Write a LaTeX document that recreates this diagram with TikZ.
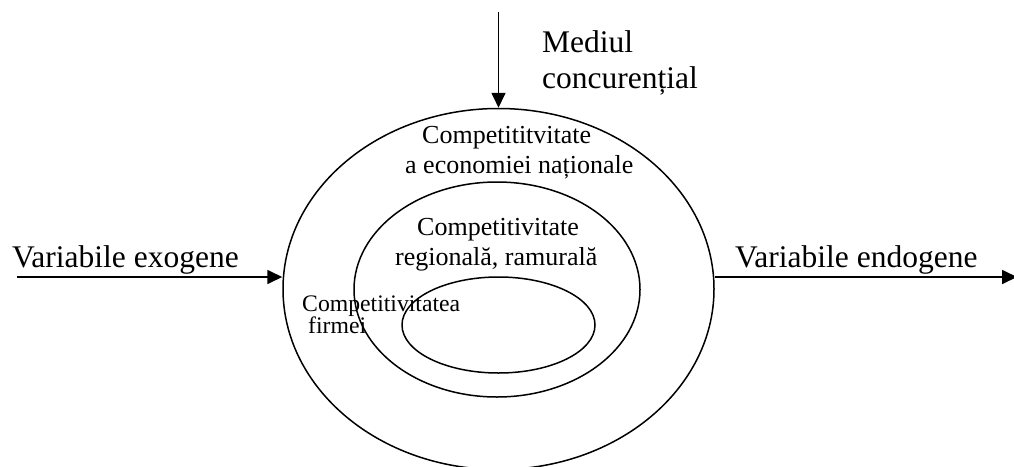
\documentclass[tikz,border=0pt]{standalone}
\usepackage{fontspec}
\setmainfont{Liberation Serif}
\usetikzlibrary{arrows.meta,shapes.geometric}
\tikzset{
  ring/.style={draw, ellipse, line width=1.5pt, inner sep=0pt},
  flow/.style={line width=1.7pt, -{Triangle[length=15pt,width=14pt]}},
  biglabel/.style={anchor=base west, inner sep=0pt, font=\fontsize{31.5}{36}\selectfont},
  midlabel/.style={anchor=base west, inner sep=0pt, font=\fontsize{26}{30}\selectfont},
  smalllabel/.style={anchor=base west, inner sep=0pt, font=\fontsize{23.7}{22}\selectfont},
}
\begin{document}
\begin{tikzpicture}[x=1pt,y=-1pt]
\useasboundingbox (0,0) rectangle (1014,466);
% ellipses
\node[ring, minimum width=431pt, minimum height=361pt] (outer) at (498.5,289) {};
\node[ring, minimum width=286pt, minimum height=215pt] (middle) at (497,289.5) {};
\node[ring, minimum width=193pt, minimum height=96pt] (inner) at (498.5,325) {};
% arrows
\coordinate (topstart) at (498.5,12);
\coordinate (leftstart) at (17,277);
\coordinate (rightend) at (1017,277);
\draw[flow] (topstart) -- (outer.north);
\draw[flow] (leftstart) -- (leftstart -| outer.west);
\draw[flow] (rightend -| outer.east) -- (rightend);
% labels
\node[biglabel] (med1) at (542,52) {Mediul};
\node[biglabel] (med2) at (542,88) {concurențial};
\node[biglabel] (exo) at (12,267) {Variabile exogene};
\node[biglabel] (endo) at (735,267) {Variabile endogene};
\node[midlabel] (nat1) at (422,143) {Competititvitate};
\node[midlabel] (nat2) at (405,173) {a economiei naționale};
\node[midlabel] (reg1) at (417,235) {Competitivitate};
\node[midlabel] (reg2) at (395,265) {regională, ramurală};
\node[smalllabel] (firm1) at (302,311) {Competitivitatea};
\node[smalllabel] (firm2) at (308,333) {firmei};
\end{tikzpicture}
\end{document}
